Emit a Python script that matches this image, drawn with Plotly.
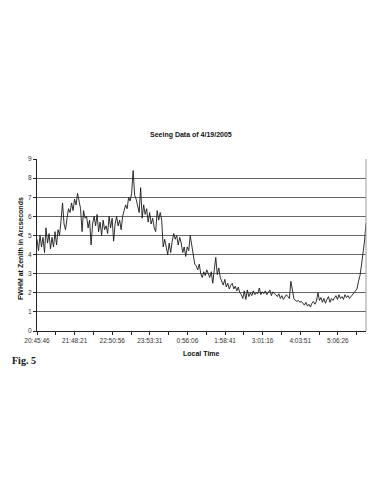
import plotly.graph_objects as go

# Sample interval (s) and start of the series (local time 20:45:46)
sample_interval_s = 150

fwhm = [
    4.8, 4.2, 5.0, 4.4, 4.9, 4.1, 5.4, 4.6, 5.1, 4.3,
    4.9, 4.4, 5.2, 4.5, 5.3, 5.0, 5.8, 6.7, 5.6, 5.3,
    5.9, 6.4, 6.2, 6.7, 6.3, 6.9, 6.6, 7.2, 6.8, 6.4,
    5.2, 6.3, 5.9, 6.0, 5.4, 5.8, 4.5, 5.6, 6.0, 5.5,
    6.1, 5.2, 5.7, 5.0, 5.8, 5.3, 5.5, 5.1, 6.0, 5.4,
    5.9, 4.7, 5.6, 6.0, 5.5, 5.8, 5.3, 6.0, 6.3, 6.6,
    6.4, 7.0, 6.8, 7.2, 8.4, 7.1, 6.9, 6.5, 6.2, 7.5,
    5.9, 6.6, 6.1, 6.4, 5.7, 6.2, 5.6, 5.9, 5.4, 5.2,
    6.3, 5.8, 6.2, 5.8, 4.4, 4.8, 4.3, 4.0, 4.6, 4.1,
    4.7, 5.1, 4.8, 5.0, 4.5, 4.9, 4.6, 4.1, 4.4, 3.9,
    4.4, 4.2, 5.0, 4.5, 3.9, 3.5, 3.4, 3.2, 3.5, 3.0,
    2.8, 3.1, 2.9, 3.2, 3.0, 2.8, 3.1, 2.5, 3.2, 3.85,
    2.95, 3.3, 2.8, 2.6, 2.4, 2.7, 2.3, 2.5, 2.2, 2.4,
    2.5, 2.2, 2.35, 2.1, 2.3, 2.0, 1.9, 1.7, 2.1, 1.65,
    2.15, 1.8, 2.0, 1.85, 2.1, 1.9, 2.0, 1.95, 2.25, 1.9,
    2.05, 1.95, 2.1, 1.9, 2.0, 2.15, 1.85, 2.05, 1.95, 1.9,
    1.8, 1.95, 1.7, 1.85, 1.65, 1.75, 1.9, 1.8, 1.7, 2.6,
    2.0, 1.7, 1.6, 1.55, 1.6, 1.5, 1.55, 1.45, 1.35, 1.5,
    1.3, 1.4, 1.25, 1.45, 1.55, 1.4, 1.55, 2.0, 1.6, 1.75,
    1.5, 1.7, 1.45, 1.65, 1.8, 1.5, 1.7, 1.6, 1.75, 1.85,
    1.65, 1.9, 1.7, 1.8, 1.65, 1.9, 1.75, 1.85, 1.7, 1.8,
    1.9, 2.0, 2.05, 2.2, 2.6, 2.9, 3.45, 4.0, 4.7, 5.65,
]
elapsed_s = [i * sample_interval_s for i in range(len(fwhm))]

tick_labels = ["20:45:46", "21:48:21", "22:50:56", "23:53:31", "0:56:06",
               "1:58:41", "3:01:16", "4:03:51", "5:06:26"]
label_step_s = 3755  # time between labelled ticks

tickvals = []
ticktext = []
k = 0
while k * label_step_s / 2 <= elapsed_s[-1]:
    tickvals.append(k * label_step_s / 2)
    ticktext.append(tick_labels[k // 2] if k % 2 == 0 and k // 2 < len(tick_labels) else "")
    k += 1

fig = go.Figure()
fig.add_trace(go.Scatter(
    x=elapsed_s, y=fwhm, mode="lines",
    line=dict(color="#1a1a1a", width=0.9),
    hoverinfo="skip", showlegend=False,
))

font_sans = "Liberation Sans, Arial, sans-serif"

fig.update_layout(
    width=381, height=492,
    margin=dict(l=37, r=15, t=159, b=161),
    paper_bgcolor="white", plot_bgcolor="white",
    font=dict(family=font_sans, size=7, color="#222"),
    showlegend=False,
    xaxis=dict(
        range=[0, elapsed_s[-1]],
        tickmode="array", tickvals=tickvals, ticktext=ticktext,
        ticks="outside", ticklen=3, tickcolor="#222", tickwidth=1,
        showgrid=False, zeroline=False,
        showline=True, linecolor="#222", linewidth=1,
        tickfont=dict(size=6.5, color="#333"),
        tickangle=0,
    ),
    yaxis=dict(
        range=[0, 9], tickmode="linear", tick0=0, dtick=1,
        ticks="outside", ticklen=3, tickcolor="#222", tickwidth=1,
        showgrid=True, gridcolor="#666", gridwidth=1,
        zeroline=False,
        showline=True, linecolor="#222", linewidth=1,
        tickfont=dict(size=6.5, color="#333"),
    ),
    shapes=[
        dict(type="line", xref="paper", yref="paper", x0=1, x1=1, y0=0, y1=1,
             line=dict(color="#999", width=1)),
    ],
    annotations=[
        dict(text="<b>Seeing Data of 4/19/2005</b>", xref="paper", yref="paper",
             x=0.468, y=1.14, xanchor="center", yanchor="middle", showarrow=False,
             font=dict(family=font_sans, size=7, color="#111")),
        dict(text="<b>FWHM at Zenith in Arcseconds</b>", xref="paper", yref="paper",
             x=-0.05, y=0.48, xanchor="center", yanchor="middle", textangle=-90,
             showarrow=False, font=dict(family=font_sans, size=7, color="#111")),
        dict(text="<b>Local Time</b>", xref="paper", yref="paper",
             x=0.4985, y=-0.128, xanchor="center", yanchor="middle", showarrow=False,
             font=dict(family=font_sans, size=7, color="#111")),
        dict(text="<b>Fig. 5</b>", xref="paper", yref="paper",
             x=-0.082, y=-0.174, xanchor="left", yanchor="middle", showarrow=False,
             font=dict(family="Liberation Serif, Times New Roman, serif", size=10, color="#111")),
    ],
)

fig.write_html("out.html")
